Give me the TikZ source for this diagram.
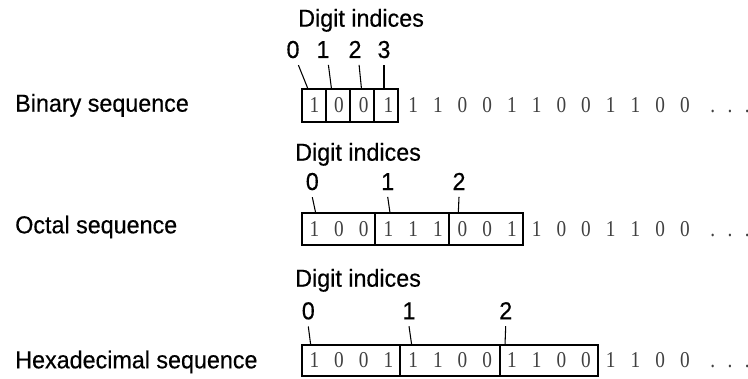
\documentclass[tikz,border=0pt]{standalone}
\usepackage{fontspec}
\setmainfont[FakeBold=0.4,FakeStretch=0.95]{Liberation Sans}
\newfontfamily\seqfont[FakeStretch=0.85]{Liberation Serif}

\tikzset{
  lbl/.style={font=\fontsize{18.4}{21}\selectfont, inner sep=0pt, anchor=base west},
  idx/.style={font=\fontsize{18.4}{21}\selectfont, inner xsep=0pt, inner ysep=5pt, anchor=base},
  bit/.style={font=\seqfont\fontsize{17}{20}\selectfont, text=black!75, inner sep=0pt, anchor=base},
  grp/.style={draw, line width=1.5pt},
  lead/.style={line width=0.8pt},
}
\newcommand{\seqdots}{.\hspace{0.55em}.\hspace{0.55em}.}

\begin{document}
\begin{tikzpicture}[x=0.75pt,y=-0.75pt]
\useasboundingbox (0,0) rectangle (748,378);

% binary row
\node[lbl] (binlbl) at (15,111.7) {Binary sequence};
\node[lbl] (bindi) at (298,26.7) {Digit indices};
\foreach \x [count=\i from 0] in {293,323,355,384}
  \node[idx] (bi\i) at (\x,58) {\i};
\foreach \d [count=\k from 0] in {1,0,0,1,1,1,0,0,1,1,0,0,1,1,0,0}
  \node[bit] (bin\k) at ({302+24.7*(\k+0.5)},112) {\d};
\node[bit, anchor=base west] (bindots) at (710,112) {\seqdots};
\foreach \a/\b in {302/325.5,325.5/349.5,349.5/373.5,373.5/397.5}
  \draw[grp] (\a,89) rectangle (\b,122);
\coordinate (bt0) at (308,89);
\coordinate (bt1) at (331.5,89);
\coordinate (bt2) at (361.5,89);
\coordinate (bt3) at (384,89);
\draw[lead] ([xshift=-1pt]bi0.south east) -- (bt0);
\draw[lead] ([xshift=-1pt]bi1.south east) -- (bt1);
\draw[lead] ([xshift=-2pt]bi2.south east) -- (bt2);
\draw[line width=1.5pt] (bi3.south) -- (bt3);

% octal row
\node[lbl] (octlbl) at (15,233.3) {Octal sequence};
\node[lbl] (octdi) at (295,160.7) {Digit indices};
\foreach \x [count=\i from 0] in {312.3,387.7,459}
  \node[idx] (oi\i) at (\x,190) {\i};
\foreach \d [count=\k from 0] in {1,0,0,1,1,1,0,0,1,1,0,0,1,1,0,0}
  \node[bit] (oct\k) at ({302+24.7*(\k+0.5)},236) {\d};
\node[bit, anchor=base west] (octdots) at (710,236) {\seqdots};
\foreach \a/\b in {302/375,375/449,449/523}
  \draw[grp] (\a,213) rectangle (\b,245);
\coordinate (ot0) at (315.7,213);
\coordinate (ot1) at (390,213);
\coordinate (ot2) at (458.3,213);
\foreach \i in {0,1,2}
  \draw[lead] (oi\i.south) -- (ot\i);

% hexadecimal row
\node[lbl] (hexlbl) at (15,368.3) {Hexadecimal sequence};
\node[lbl] (hexdi) at (295,286.7) {Digit indices};
\foreach \x [count=\i from 0] in {308.3,409,505.7}
  \node[idx] (hi\i) at (\x,319.3) {\i};
\foreach \d [count=\k from 0] in {1,0,0,1,1,1,0,0,1,1,0,0,1,1,0,0}
  \node[bit] (hex\k) at ({302+24.7*(\k+0.5)},367.5) {\d};
\node[bit, anchor=base west] (hexdots) at (710,367.5) {\seqdots};
\foreach \a/\b in {302/400,400/500,500/598}
  \draw[grp] (\a,345) rectangle (\b,376);
\coordinate (ht0) at (310.7,345);
\coordinate (ht1) at (411.7,345);
\coordinate (ht2) at (505,345);
\foreach \i in {0,1,2}
  \draw[lead] (hi\i.south) -- (ht\i);

\end{tikzpicture}
\end{document}
